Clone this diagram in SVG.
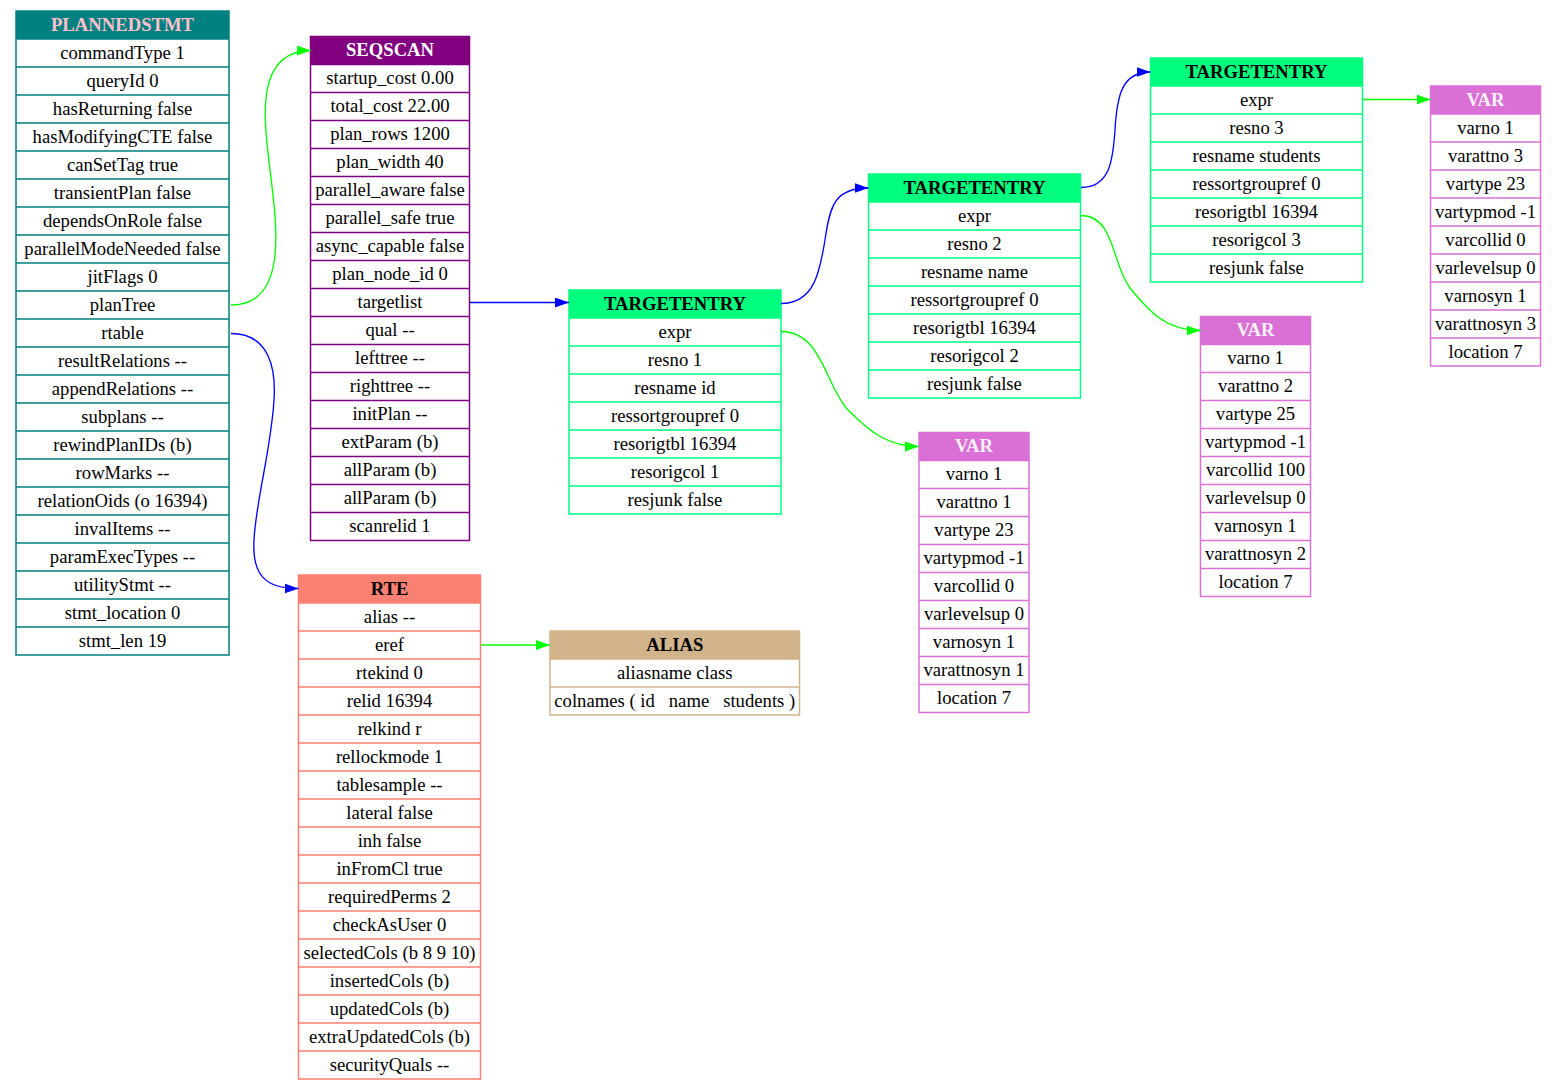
<svg xmlns="http://www.w3.org/2000/svg" width="1556" height="1090" viewBox="0 0 1556 1090">
<style>
text{font-family:"Liberation Serif","Times New Roman",serif;font-size:18.67px;text-anchor:middle;fill:#000}
text.h{font-weight:bold}
.box{fill:#fff;stroke-width:1.5}
.sep{fill:none;stroke-width:1.5}
.teal .box,.teal .sep{stroke:#008080}.teal .hd{fill:#008080}.teal text.h{fill:#FFC0CB}
.purple .box,.purple .sep{stroke:#800080}.purple .hd{fill:#800080}.purple text.h{fill:#fff}
.green .box,.green .sep{stroke:#00FF7F}.green .hd{fill:#00FF7F}
.orchid .box,.orchid .sep{stroke:#DA70D6}.orchid .hd{fill:#DA70D6}.orchid text.h{fill:#F8F0F8}
.salmon .box,.salmon .sep{stroke:#FA8072}.salmon .hd{fill:#FA8072}
.tan .box,.tan .sep{stroke:#D2B48C}.tan .hd{fill:#D2B48C}
.e{fill:none;stroke-width:1.33}
.eb{stroke:#0000FF}.eg{stroke:#00FF00}
</style>
<defs>
<marker id="ab" markerUnits="userSpaceOnUse" markerWidth="14" markerHeight="10" refX="14" refY="5" orient="auto" viewBox="0 0 14 10"><path d="M0,0L14,5L0,10z" fill="#0000FF"/></marker>
<marker id="ag" markerUnits="userSpaceOnUse" markerWidth="14" markerHeight="10" refX="14" refY="5" orient="auto" viewBox="0 0 14 10"><path d="M0,0L14,5L0,10z" fill="#00FF00"/></marker>
</defs>
<rect width="1556" height="1090" fill="#fff"/>

<g id="plannedstmt" class="teal" transform="translate(16,11)">
<rect class="box" width="213" height="644"/>
<rect class="hd" width="213" height="28"/>
<path class="sep" d="M0,28h213M0,56h213M0,84h213M0,112h213M0,140h213M0,168h213M0,196h213M0,224h213M0,252h213M0,280h213M0,308h213M0,336h213M0,364h213M0,392h213M0,420h213M0,448h213M0,476h213M0,504h213M0,532h213M0,560h213M0,588h213M0,616h213"/>
<text class="h" x="106.5" y="19.5">PLANNEDSTMT</text>
<text x="106.5" y="47.5">commandType 1</text>
<text x="106.5" y="75.5">queryId 0</text>
<text x="106.5" y="103.5">hasReturning false</text>
<text x="106.5" y="131.5">hasModifyingCTE false</text>
<text x="106.5" y="159.5">canSetTag true</text>
<text x="106.5" y="187.5">transientPlan false</text>
<text x="106.5" y="215.5">dependsOnRole false</text>
<text x="106.5" y="243.5">parallelModeNeeded false</text>
<text x="106.5" y="271.5">jitFlags 0</text>
<text x="106.5" y="299.5">planTree</text>
<text x="106.5" y="327.5">rtable</text>
<text x="106.5" y="355.5">resultRelations --</text>
<text x="106.5" y="383.5">appendRelations --</text>
<text x="106.5" y="411.5">subplans --</text>
<text x="106.5" y="439.5">rewindPlanIDs (b)</text>
<text x="106.5" y="467.5">rowMarks --</text>
<text x="106.5" y="495.5">relationOids (o 16394)</text>
<text x="106.5" y="523.5">invalItems --</text>
<text x="106.5" y="551.5">paramExecTypes --</text>
<text x="106.5" y="579.5">utilityStmt --</text>
<text x="106.5" y="607.5">stmt_location 0</text>
<text x="106.5" y="635.5">stmt_len 19</text>
</g>

<g id="seqscan" class="purple" transform="translate(310.5,36.5)">
<rect class="box" width="159" height="504"/>
<rect class="hd" width="159" height="28"/>
<path class="sep" d="M0,28h159M0,56h159M0,84h159M0,112h159M0,140h159M0,168h159M0,196h159M0,224h159M0,252h159M0,280h159M0,308h159M0,336h159M0,364h159M0,392h159M0,420h159M0,448h159M0,476h159"/>
<text class="h" x="79.5" y="19.5">SEQSCAN</text>
<text x="79.5" y="47.5">startup_cost 0.00</text>
<text x="79.5" y="75.5">total_cost 22.00</text>
<text x="79.5" y="103.5">plan_rows 1200</text>
<text x="79.5" y="131.5">plan_width 40</text>
<text x="79.5" y="159.5">parallel_aware false</text>
<text x="79.5" y="187.5">parallel_safe true</text>
<text x="79.5" y="215.5">async_capable false</text>
<text x="79.5" y="243.5">plan_node_id 0</text>
<text x="79.5" y="271.5">targetlist</text>
<text x="79.5" y="299.5">qual --</text>
<text x="79.5" y="327.5">lefttree --</text>
<text x="79.5" y="355.5">righttree --</text>
<text x="79.5" y="383.5">initPlan --</text>
<text x="79.5" y="411.5">extParam (b)</text>
<text x="79.5" y="439.5">allParam (b)</text>
<text x="79.5" y="467.5">allParam (b)</text>
<text x="79.5" y="495.5">scanrelid 1</text>
</g>

<g id="targetentry1" class="green" transform="translate(569,290)">
<rect class="box" width="212" height="224"/>
<rect class="hd" width="212" height="28"/>
<path class="sep" d="M0,28h212M0,56h212M0,84h212M0,112h212M0,140h212M0,168h212M0,196h212"/>
<text class="h" x="106" y="19.5">TARGETENTRY</text>
<text x="106" y="47.5">expr</text>
<text x="106" y="75.5">resno 1</text>
<text x="106" y="103.5">resname id</text>
<text x="106" y="131.5">ressortgroupref 0</text>
<text x="106" y="159.5">resorigtbl 16394</text>
<text x="106" y="187.5">resorigcol 1</text>
<text x="106" y="215.5">resjunk false</text>
</g>

<g id="targetentry2" class="green" transform="translate(868.5,174)">
<rect class="box" width="212" height="224"/>
<rect class="hd" width="212" height="28"/>
<path class="sep" d="M0,28h212M0,56h212M0,84h212M0,112h212M0,140h212M0,168h212M0,196h212"/>
<text class="h" x="106" y="19.5">TARGETENTRY</text>
<text x="106" y="47.5">expr</text>
<text x="106" y="75.5">resno 2</text>
<text x="106" y="103.5">resname name</text>
<text x="106" y="131.5">ressortgroupref 0</text>
<text x="106" y="159.5">resorigtbl 16394</text>
<text x="106" y="187.5">resorigcol 2</text>
<text x="106" y="215.5">resjunk false</text>
</g>

<g id="targetentry3" class="green" transform="translate(1150.5,58)">
<rect class="box" width="212" height="224"/>
<rect class="hd" width="212" height="28"/>
<path class="sep" d="M0,28h212M0,56h212M0,84h212M0,112h212M0,140h212M0,168h212M0,196h212"/>
<text class="h" x="106" y="19.5">TARGETENTRY</text>
<text x="106" y="47.5">expr</text>
<text x="106" y="75.5">resno 3</text>
<text x="106" y="103.5">resname students</text>
<text x="106" y="131.5">ressortgroupref 0</text>
<text x="106" y="159.5">resorigtbl 16394</text>
<text x="106" y="187.5">resorigcol 3</text>
<text x="106" y="215.5">resjunk false</text>
</g>

<g id="var1" class="orchid" transform="translate(919,432.5)">
<rect class="box" width="110" height="280"/>
<rect class="hd" width="110" height="28"/>
<path class="sep" d="M0,28h110M0,56h110M0,84h110M0,112h110M0,140h110M0,168h110M0,196h110M0,224h110M0,252h110"/>
<text class="h" x="55" y="19.5">VAR</text>
<text x="55" y="47.5">varno 1</text>
<text x="55" y="75.5">varattno 1</text>
<text x="55" y="103.5">vartype 23</text>
<text x="55" y="131.5">vartypmod -1</text>
<text x="55" y="159.5">varcollid 0</text>
<text x="55" y="187.5">varlevelsup 0</text>
<text x="55" y="215.5">varnosyn 1</text>
<text x="55" y="243.5">varattnosyn 1</text>
<text x="55" y="271.5">location 7</text>
</g>

<g id="var2" class="orchid" transform="translate(1200.5,316.5)">
<rect class="box" width="110" height="280"/>
<rect class="hd" width="110" height="28"/>
<path class="sep" d="M0,28h110M0,56h110M0,84h110M0,112h110M0,140h110M0,168h110M0,196h110M0,224h110M0,252h110"/>
<text class="h" x="55" y="19.5">VAR</text>
<text x="55" y="47.5">varno 1</text>
<text x="55" y="75.5">varattno 2</text>
<text x="55" y="103.5">vartype 25</text>
<text x="55" y="131.5">vartypmod -1</text>
<text x="55" y="159.5">varcollid 100</text>
<text x="55" y="187.5">varlevelsup 0</text>
<text x="55" y="215.5">varnosyn 1</text>
<text x="55" y="243.5">varattnosyn 2</text>
<text x="55" y="271.5">location 7</text>
</g>

<g id="var3" class="orchid" transform="translate(1430.5,86)">
<rect class="box" width="110" height="280"/>
<rect class="hd" width="110" height="28"/>
<path class="sep" d="M0,28h110M0,56h110M0,84h110M0,112h110M0,140h110M0,168h110M0,196h110M0,224h110M0,252h110"/>
<text class="h" x="55" y="19.5">VAR</text>
<text x="55" y="47.5">varno 1</text>
<text x="55" y="75.5">varattno 3</text>
<text x="55" y="103.5">vartype 23</text>
<text x="55" y="131.5">vartypmod -1</text>
<text x="55" y="159.5">varcollid 0</text>
<text x="55" y="187.5">varlevelsup 0</text>
<text x="55" y="215.5">varnosyn 1</text>
<text x="55" y="243.5">varattnosyn 3</text>
<text x="55" y="271.5">location 7</text>
</g>

<g id="rte" class="salmon" transform="translate(298.5,575)">
<rect class="box" width="182" height="504"/>
<rect class="hd" width="182" height="28"/>
<path class="sep" d="M0,28h182M0,56h182M0,84h182M0,112h182M0,140h182M0,168h182M0,196h182M0,224h182M0,252h182M0,280h182M0,308h182M0,336h182M0,364h182M0,392h182M0,420h182M0,448h182M0,476h182"/>
<text class="h" x="91" y="19.5">RTE</text>
<text x="91" y="47.5">alias --</text>
<text x="91" y="75.5">eref</text>
<text x="91" y="103.5">rtekind 0</text>
<text x="91" y="131.5">relid 16394</text>
<text x="91" y="159.5">relkind r</text>
<text x="91" y="187.5">rellockmode 1</text>
<text x="91" y="215.5">tablesample --</text>
<text x="91" y="243.5">lateral false</text>
<text x="91" y="271.5">inh false</text>
<text x="91" y="299.5">inFromCl true</text>
<text x="91" y="327.5">requiredPerms 2</text>
<text x="91" y="355.5">checkAsUser 0</text>
<text x="91" y="383.5">selectedCols (b 8 9 10)</text>
<text x="91" y="411.5">insertedCols (b)</text>
<text x="91" y="439.5">updatedCols (b)</text>
<text x="91" y="467.5">extraUpdatedCols (b)</text>
<text x="91" y="495.5">securityQuals --</text>
</g>

<g id="alias" class="tan" transform="translate(550,631)">
<rect class="box" width="249.5" height="84"/>
<rect class="hd" width="249.5" height="28"/>
<path class="sep" d="M0,28h249.5M0,56h249.5"/>
<text class="h" x="124.75" y="19.5">ALIAS</text>
<text x="124.75" y="47.5">aliasname class</text>
<text x="124.75" y="75.5" style="white-space:pre" xml:space="preserve">colnames ( id   name   students )</text>
</g>

<g id="edges">
<path class="e eg" marker-end="url(#ag)" d="M231,305 C290,305 276,220 270,170 C264,120 254,51 311,50.5"/>
<path class="e eb" marker-end="url(#ab)" d="M231,333.5 C270,333.5 276,370 274,400 C271,450 256,500 254,540 C252,575 265,588.5 298.5,588.5"/>
<path class="e eb" marker-end="url(#ab)" d="M470,302.5 L569,302.5"/>
<path class="e eb" marker-end="url(#ab)" d="M781,303.5 C815,303.5 820,270 825,240 C830,205 835,188 868.5,188"/>
<path class="e eg" marker-end="url(#ag)" d="M781,331.5 C822,331.5 825,385 848,410 C870,432 888,446.5 919,446.5"/>
<path class="e eb" marker-end="url(#ab)" d="M1081,187.5 C1110,187.5 1113,160 1115,130 C1117,95 1122,72 1150.5,72"/>
<path class="e eg" marker-end="url(#ag)" d="M1081,215.5 C1115,215.5 1112,265 1130,288 C1148,310 1165,330.5 1200.5,330.5"/>
<path class="e eg" marker-end="url(#ag)" d="M1363,99.5 L1430.5,99.5"/>
<path class="e eg" marker-end="url(#ag)" d="M481,645 L550,645"/>
</g>
</svg>
